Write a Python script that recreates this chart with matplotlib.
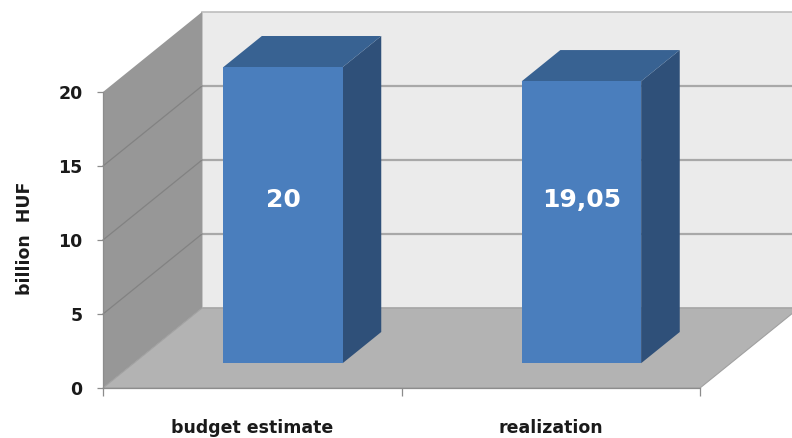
import matplotlib
matplotlib.use("Agg")
import matplotlib.pyplot as plt
from matplotlib.patches import Polygon

# ---- data -------------------------------------------------------------
categories = ["budget estimate", "realization"]
values = [20, 19.05]
value_labels = ["20", "19,05"]
y_ticks = [0, 5, 10, 15, 20]
y_label = "billion  HUF"

# ---- layout / style ---------------------------------------------------
W, H = 792, 438
X0_PX, Y0_PX = 103, 388          # origin of the front plane (pixels, from top-left)
PX_PER_CAT = 298.5               # pixels per category slot
PX_PER_UNIT = 14.8               # pixels per value unit
DX = 99 / PX_PER_CAT             # oblique depth offset, in data units
DY = 80 / PX_PER_UNIT
BAR_W = 0.40                     # bar width as a fraction of a slot
Z_FRONT, Z_BACK = 0.31, 0.70     # bar depth span within the floor
LABEL_LEVEL = 11                 # height of the value labels on the bar face

C_BACK = "#ebebeb"
C_SIDE = "#979797"
C_FLOOR = "#b3b3b3"
C_GRID_BACK = "#a8a8a8"
C_GRID_SIDE = "#828282"
C_BAR_FRONT = "#4a7ebd"
C_BAR_SIDE = "#2f5079"
C_BAR_TOP = "#386292"
C_TEXT = "#1a1a1a"
C_AXIS = "#8c8c8c"

plt.rcParams["font.family"] = ["DejaVu Sans"]
plt.rcParams["font.weight"] = "bold"


def proj(x, y, z):
    """Oblique projection of (category, value, depth) into the 2-D data plane."""
    return (x + z * DX, y + z * DY)


fig = plt.figure(figsize=(W / 100, H / 100), dpi=100)
ax = fig.add_axes([0, 0, 1, 1])
ax.set_xlim(-X0_PX / PX_PER_CAT, (W - X0_PX) / PX_PER_CAT)
ax.set_ylim(-(H - Y0_PX) / PX_PER_UNIT, Y0_PX / PX_PER_UNIT)
ax.set_facecolor("white")

n = len(categories)
ymax = y_ticks[-1]


def poly(points, color, z, ec="none", lw=0):
    ax.add_patch(Polygon([proj(*p) for p in points], closed=True,
                         facecolor=color, edgecolor=ec, linewidth=lw, zorder=z))


# walls and floor
poly([(0, 0, 1), (n, 0, 1), (n, ymax, 1), (0, ymax, 1)], C_BACK, 1, ec="#bdbdbd", lw=1.2)
poly([(0, 0, 0), (0, ymax, 0), (0, ymax, 1), (0, 0, 1)], C_SIDE, 1)
poly([(0, 0, 0), (n, 0, 0), (n, 0, 1), (0, 0, 1)], C_FLOOR, 2, ec="#a0a0a0", lw=0.8)

# gridlines on the back and side walls
for t in y_ticks[1:-1]:
    xa, ya = proj(0, t, 1)
    xb, yb = proj(n, t, 1)
    ax.plot([xa, xb], [ya, yb], color=C_GRID_BACK, lw=1.6, zorder=1.5)
    xa, ya = proj(0, t, 0)
    xb, yb = proj(0, t, 1)
    ax.plot([xa, xb], [ya, yb], color=C_GRID_SIDE, lw=0.9, zorder=1.5)

# 3-D bars
for i, (v, lab) in enumerate(zip(values, value_labels)):
    x0 = i + 0.5 - BAR_W / 2
    x1 = i + 0.5 + BAR_W / 2
    poly([(x1, 0, Z_FRONT), (x1, 0, Z_BACK), (x1, v, Z_BACK), (x1, v, Z_FRONT)], C_BAR_SIDE, 3)
    poly([(x0, v, Z_FRONT), (x1, v, Z_FRONT), (x1, v, Z_BACK), (x0, v, Z_BACK)], C_BAR_TOP, 3)
    poly([(x0, 0, Z_FRONT), (x1, 0, Z_FRONT), (x1, v, Z_FRONT), (x0, v, Z_FRONT)], C_BAR_FRONT, 4)
    tx, ty = proj(i + 0.5, LABEL_LEVEL, Z_FRONT)
    ax.text(tx, ty, lab, ha="center", va="center", color="white",
            fontsize=18, fontweight="bold", zorder=5)

# axes: value axis on the front edge of the side wall, category axis on the floor edge
for s in ("top", "right"):
    ax.spines[s].set_visible(False)
ax.spines["left"].set_position(("data", 0))
ax.spines["left"].set_bounds(0, ymax)
ax.spines["bottom"].set_position(("data", 0))
ax.spines["bottom"].set_bounds(0, n)
for s in ("left", "bottom"):
    ax.spines[s].set_color(C_AXIS)
    ax.spines[s].set_linewidth(0.9)
    ax.spines[s].set_zorder(6)

ax.set_yticks(y_ticks)
ax.set_yticklabels([str(t) for t in y_ticks])
ax.tick_params(axis="y", length=4.3, width=0.9, color=C_AXIS, pad=10.5,
               labelsize=12.5, labelcolor=C_TEXT)

ax.set_xticks(range(n + 1))
ax.set_xticklabels([])
ax.set_xticks([i + 0.5 for i in range(n)], minor=True)
ax.set_xticklabels(categories, minor=True)
ax.tick_params(axis="x", which="major", length=5.8, width=0.9, color=C_AXIS)
ax.tick_params(axis="x", which="minor", length=0, pad=22.5,
               labelsize=12.5, labelcolor=C_TEXT)
for lbl in ax.get_xticklabels(minor=True) + ax.get_yticklabels():
    lbl.set_fontweight("bold")

fig.text(25 / W, 1 - 238 / H, y_label, rotation=90, ha="center", va="center",
         fontsize=12.5, fontweight="bold", color=C_TEXT)

fig.savefig("out.png", dpi=100)
